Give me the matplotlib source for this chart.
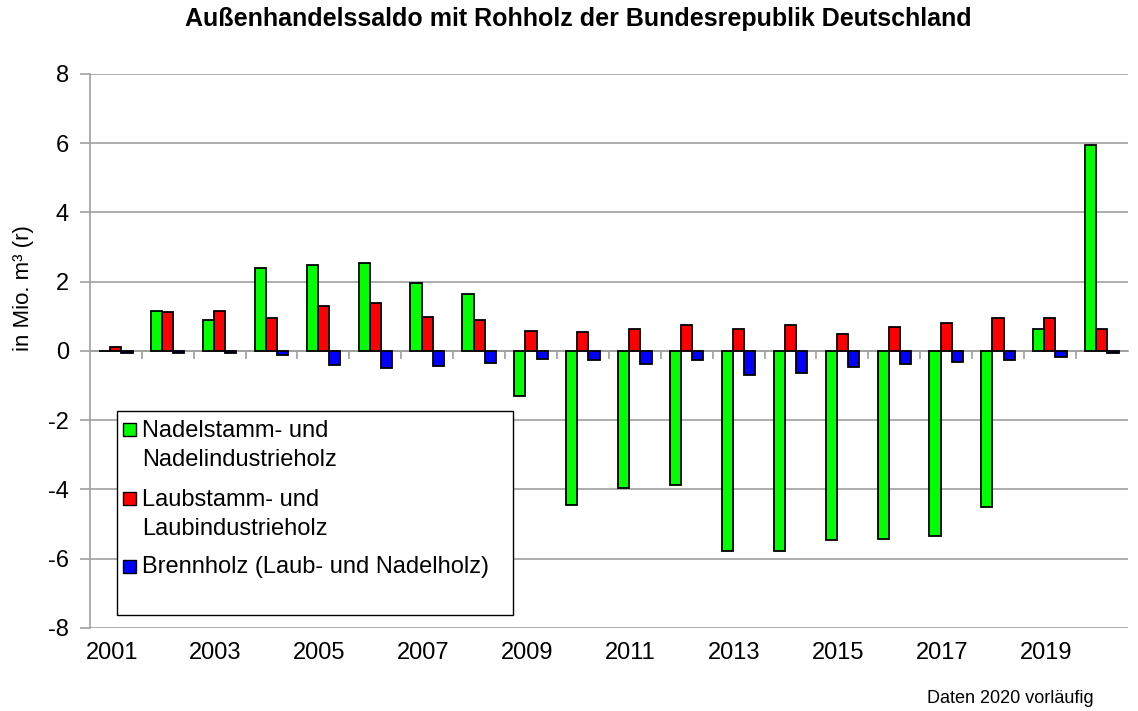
import numpy as np
import matplotlib.pyplot as plt
from matplotlib.patches import Rectangle
from matplotlib.transforms import blended_transform_factory

plt.rcParams['font.family'] = ['Liberation Sans', 'DejaVu Sans']
plt.rcParams['axes.unicode_minus'] = False

# Data (Mio. m³ (r))
years = list(range(2001, 2021))
nadel = [0.0, 1.16, 0.90, 2.38, 2.49, 2.54, 1.96, 1.64, -1.30, -4.45,
         -3.97, -3.88, -5.79, -5.79, -5.47, -5.42, -5.35, -4.51, 0.64, 5.94]
laub = [0.10, 1.12, 1.16, 0.94, 1.31, 1.37, 0.99, 0.89, 0.58, 0.54,
        0.64, 0.74, 0.64, 0.74, 0.48, 0.70, 0.80, 0.96, 0.96, 0.64]
brenn = [-0.07, -0.06, -0.06, -0.12, -0.40, -0.50, -0.45, -0.34, -0.23, -0.27,
         -0.37, -0.27, -0.70, -0.64, -0.48, -0.37, -0.32, -0.27, -0.17, -0.05]
labels = ['Nadelstamm- und\nNadelindustrieholz',
          'Laubstamm- und\nLaubindustrieholz',
          'Brennholz (Laub- und Nadelholz)']
colors = ['#00ff00', '#ff0000', '#0000ff']

fig = plt.figure(figsize=(11.38, 7.11), dpi=100)
ax = fig.add_axes([0.079, 0.117, 0.912, 0.779])

x = np.arange(len(years))
w = 0.215
for i, (vals, c, lab) in enumerate(zip([nadel, laub, brenn], colors, labels)):
    ax.bar(x + (i - 1) * w, vals, w, color=c, edgecolor='black', linewidth=1.3,
           label=lab, zorder=3)

ax.set_xlim(-0.5, len(years) - 0.5)
ax.set_ylim(-8, 8)
ax.set_yticks(np.arange(-8, 9, 2))
ax.yaxis.grid(True, color='#a0a0a0', linewidth=1.2, zorder=0)

for s in ['top', 'right']:
    ax.spines[s].set_visible(False)
ax.spines['left'].set_color('#a0a0a0')
ax.spines['left'].set_linewidth(1.2)
ax.spines['bottom'].set_position(('data', 0))
ax.spines['bottom'].set_color('#a0a0a0')
ax.spines['bottom'].set_linewidth(1.2)
ax.spines['bottom'].set_zorder(1)

ax.set_xticks(np.arange(0.5, len(years) - 0.5, 1))
ax.tick_params(axis='x', labelbottom=False, length=6, color='#a0a0a0', width=1.2)
ax.tick_params(axis='y', labelsize=17, length=7, color='#a0a0a0', width=1.2, pad=8)

trans = blended_transform_factory(ax.transData, ax.transAxes)
for xi, yr in zip(x, years):
    if yr % 2 == 1:
        ax.text(xi - 0.08, -0.025, str(yr), transform=trans, ha='center', va='top',
                fontsize=17)

ax.set_ylabel('in Mio. m³ (r)', fontsize=16)
ax.yaxis.set_label_coords(-0.054, 0.614)
fig.suptitle('Außenhandelssaldo mit Rohholz der Bundesrepublik Deutschland',
             fontsize=18, fontweight='bold', x=0.508, y=0.99)
fig.text(0.961, 0.011, 'Daten 2020 vorläufig', ha='right', va='baseline', fontsize=13)

# legend drawn Excel style: box with empty bottom, squares beside first line
ax.add_patch(Rectangle((0.026, 0.0235), 0.3815, 0.3682, transform=ax.transAxes,
                       facecolor='white', edgecolor='black', linewidth=1.0,
                       zorder=4))
leg_rows = [0.345, 0.2205, 0.099]   # baseline of the first line of each entry
line_step = 0.0523                  # one text line in axes units
for lab, c, yb in zip(labels, colors, leg_rows):
    ax.add_patch(Rectangle((0.0318, yb + 0.0005), 0.0128, 0.0235,
                           transform=ax.transAxes, facecolor=c,
                           edgecolor='black', linewidth=1.0, zorder=5))
    ax.text(0.0505, yb - lab.count('\n') * line_step, lab, transform=ax.transAxes,
            ha='left', va='baseline', fontsize=17, linespacing=1.42, zorder=5)

fig.savefig('out.png', dpi=100)
